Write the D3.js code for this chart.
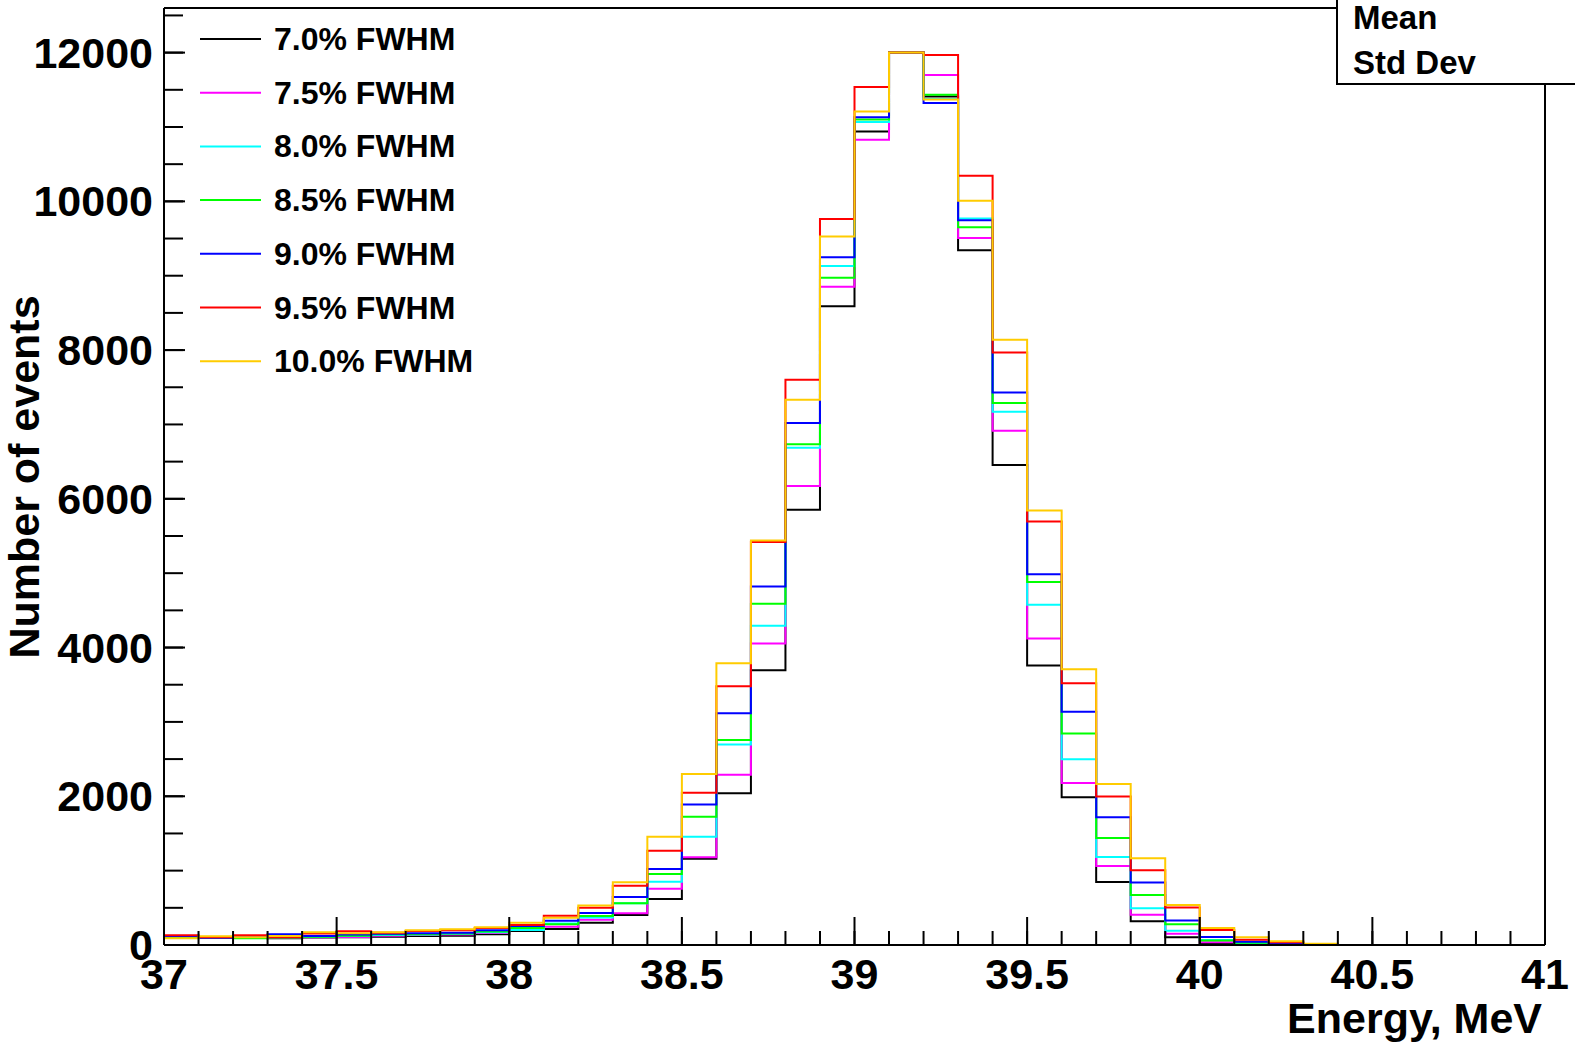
<!DOCTYPE html>
<html>
<head>
<meta charset="utf-8">
<script src="https://cdn.jsdelivr.net/npm/d3@7/dist/d3.min.js"></script>
<style>
  html, body { margin: 0; padding: 0; background: #ffffff; }
  svg { display: block; }
  text { font-family: "Liberation Sans", Arial, Helvetica, sans-serif; font-weight: bold; fill: #000; }
</style>
</head>
<body>
<svg id="chart" width="1575" height="1045"></svg>
<script>
// ---------- data ----------
const binEdges = d3.range(0, 41).map(i => +(37 + i * 0.1).toFixed(1)); // 37.0 .. 41.0
const seriesNames = ["7.0% FWHM", "7.5% FWHM", "8.0% FWHM", "8.5% FWHM", "9.0% FWHM", "9.5% FWHM", "10.0% FWHM"];
const seriesColors = ["#000000", "#ff00ff", "#00ffff", "#00ff00", "#0000ff", "#ff0000", "#ffcc00"];

const fwhm70 = [100, 95, 95, 90, 100, 105, 110, 120, 125, 144,
  188, 215, 300, 404, 619, 1161, 2041, 3696, 5852, 8590,
  10938, 12000, 11410, 9341, 6453, 3758, 1987, 848, 319, 104,
  23, 5, 2, 0, 0, 0, 0, 0, 0, 0];
const fwhm75 = [105, 100, 100, 100, 104, 108, 125, 135, 140, 160,
  215, 246, 340, 426, 758, 1180, 2291, 4054, 6171, 8852,
  10830, 12000, 11700, 9507, 6915, 4121, 2180, 1063, 408, 150,
  36, 8, 3, 0, 0, 0, 0, 0, 0, 0];
const fwhm80 = [100, 105, 95, 105, 110, 120, 135, 140, 150, 170,
  202, 290, 370, 560, 852, 1457, 2695, 4292, 6686, 9131,
  11068, 12000, 11377, 9771, 7171, 4574, 2498, 1184, 493, 193,
  67, 15, 5, 1, 0, 0, 0, 0, 0, 0];
const fwhm85 = [100, 100, 90, 100, 110, 125, 144, 145, 155, 180,
  230, 280, 390, 561, 955, 1726, 2758, 4588, 6735, 8973,
  11099, 12000, 11435, 9651, 7287, 4880, 2843, 1440, 673, 280,
  60, 31, 15, 3, 0, 0, 0, 0, 0, 0];
const fwhm90 = [121, 99, 110, 144, 121, 140, 150, 157, 165, 200,
  256, 327, 430, 644, 1022, 1888, 3117, 4821, 7018, 9247,
  11131, 12000, 11324, 9745, 7431, 4987, 3135, 1718, 839, 330,
  108, 45, 20, 5, 0, 0, 0, 0, 0, 0];
const fwhm95 = [130, 105, 130, 104, 153, 184, 165, 189, 200, 230,
  269, 394, 500, 796, 1269, 2049, 3480, 5418, 7601, 9763,
  11539, 12000, 11969, 10345, 7969, 5695, 3521, 1996, 1005, 505,
  202, 72, 36, 8, 0, 0, 0, 0, 0, 0];
const fwhm100 = [90, 117, 103, 121, 171, 157, 171, 198, 211, 238,
  300, 368, 532, 843, 1457, 2300, 3790, 5440, 7332, 9529,
  11207, 12000, 11368, 10009, 8139, 5843, 3709, 2166, 1166, 538,
  228, 105, 50, 18, 0, 0, 0, 0, 0, 0];
const seriesValues = [fwhm70, fwhm75, fwhm80, fwhm85, fwhm90, fwhm95, fwhm100];

const xTickMajor = [37, 37.5, 38, 38.5, 39, 39.5, 40, 40.5, 41];
const xTickLabels = ["37", "37.5", "38", "38.5", "39", "39.5", "40", "40.5", "41"];
const yTickMajor = [0, 2000, 4000, 6000, 8000, 10000, 12000];
const statsLabels = ["Mean", "Std Dev"];
const xTitle = "Energy, MeV";
const yTitle = "Number of events";

// ---------- layout ----------
const L = 164, R = 1545, T = 8, B = 945;
const svg = d3.select("#chart");
const x = d3.scaleLinear().domain([37, 41]).range([L, R]);
const y = d3.scaleLinear().domain([0, 12600]).range([B, T]);

// histograms
const line = d3.line()
  .x(d => x(d[0]))
  .y(d => y(d[1]))
  .curve(d3.curveStepAfter);

seriesValues.forEach((vals, k) => {
  const pts = vals.map((v, i) => [binEdges[i], v]);
  pts.push([binEdges[binEdges.length - 1], vals[vals.length - 1]]);
  svg.append("path")
    .attr("d", line(pts))
    .attr("fill", "none")
    .attr("stroke", seriesColors[k])
    .attr("stroke-width", 2);
});

// ---------- axes (ROOT style ticks inside) ----------
const xMinor = d3.range(0, 41).map(i => 37 + i * 0.1);
const gx = svg.append("g");
gx.selectAll("line.minor").data(xMinor).enter().append("line")
  .attr("x1", d => x(d)).attr("x2", d => x(d))
  .attr("y1", B).attr("y2", B - 14)
  .attr("stroke", "#000").attr("stroke-width", 2);
gx.selectAll("line.major").data(xTickMajor).enter().append("line")
  .attr("x1", d => x(d)).attr("x2", d => x(d))
  .attr("y1", B).attr("y2", B - 28)
  .attr("stroke", "#000").attr("stroke-width", 2);
gx.selectAll("text").data(xTickMajor).enter().append("text")
  .attr("x", d => x(d)).attr("y", 989)
  .attr("text-anchor", "middle")
  .style("font-size", "43px")
  .text((d, i) => xTickLabels[i]);

const yMinor = d3.range(0, 12501, 500);
const gy = svg.append("g");
gy.selectAll("line.minor").data(yMinor).enter().append("line")
  .attr("x1", L).attr("x2", L + 19)
  .attr("y1", d => y(d)).attr("y2", d => y(d))
  .attr("stroke", "#000").attr("stroke-width", 2);
gy.selectAll("line.major").data(yTickMajor).enter().append("line")
  .attr("x1", L).attr("x2", L + 21)
  .attr("y1", d => y(d)).attr("y2", d => y(d))
  .attr("stroke", "#000").attr("stroke-width", 2);
gy.selectAll("text").data(yTickMajor).enter().append("text")
  .attr("x", 153).attr("y", d => y(d))
  .attr("text-anchor", "end")
  .attr("dominant-baseline", "central")
  .style("font-size", "43px")
  .text(d => d3.format("d")(d));

// frame
svg.append("line").attr("x1", L).attr("x2", L).attr("y1", T).attr("y2", B).attr("stroke", "#000").attr("stroke-width", 2);
svg.append("line").attr("x1", L).attr("x2", R).attr("y1", B).attr("y2", B).attr("stroke", "#000").attr("stroke-width", 2);
svg.append("line").attr("x1", L).attr("x2", R).attr("y1", T).attr("y2", T).attr("stroke", "#000").attr("stroke-width", 2);
svg.append("line").attr("x1", R).attr("x2", R).attr("y1", T).attr("y2", B).attr("stroke", "#000").attr("stroke-width", 2);

// axis titles
svg.append("text")
  .attr("x", 1542).attr("y", 1033)
  .attr("text-anchor", "end")
  .style("font-size", "43px")
  .text(xTitle);
svg.append("text")
  .attr("transform", "translate(39,477) rotate(-90)")
  .attr("text-anchor", "middle")
  .style("font-size", "43px")
  .text(yTitle);

// legend
const leg = svg.append("g");
seriesNames.forEach((name, k) => {
  const cy = 39 + k * 53.7;
  leg.append("line")
    .attr("x1", 200).attr("x2", 261)
    .attr("y1", cy).attr("y2", cy)
    .attr("stroke", seriesColors[k]).attr("stroke-width", 2);
  leg.append("text")
    .attr("x", 274).attr("y", cy)
    .attr("dominant-baseline", "central")
    .style("font-size", "32px")
    .text(name);
});

// stats box
svg.append("rect")
  .attr("x", 1337).attr("y", -5).attr("width", 260).attr("height", 89)
  .attr("fill", "#fff").attr("stroke", "#000").attr("stroke-width", 2);
statsLabels.forEach((s, i) => {
  svg.append("text")
    .attr("x", 1353).attr("y", 29 + i * 45)
    .style("font-size", "33px")
    .text(s);
});
</script>
</body>
</html>
